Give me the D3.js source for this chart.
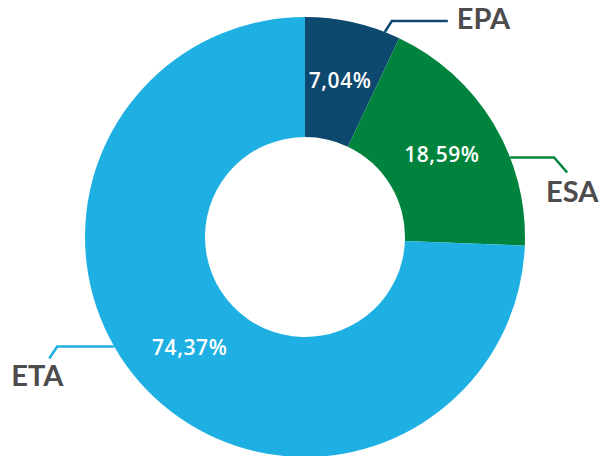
<!DOCTYPE html>
<html>
<head>
<meta charset="utf-8">
<script src="https://cdn.jsdelivr.net/npm/d3@7"></script>
<style>
  body { margin: 0; background: #fff; }
  svg { display: block; }
  .pct { font-family: "Open Sans", sans-serif; font-weight: 600; fill: #fff; }
  .name { font-family: Lato, sans-serif; font-weight: 700; fill: #4d4b4c; }
</style>
</head>
<body>
<svg id="chart"></svg>
<script>
// data
const categories = [ "EPA", "ESA", "ETA" ];
const shares = [ 7.04, 18.59, 74.37 ];
const colours = [ "#0d486e", "#00843d", "#1fb0e3" ];

var svgWidth = 603,
    svgHeight = 456,
    center = [ 305, 237 ],
    outerRadius = 220,
    innerRadius = 100,
    labelRadius = 160;

// leader lines: angle offset from the slice middle (deg), then elbow and end, relative to the arc point
const leaders = [
    { offset: 8.6,  pts: [ [ 7, -11 ], [ 63, -11 ] ], text: [ 72, -3 ],  anchor: "start" },
    { offset: 10,   pts: [ [ 44, 0 ], [ 57, 15 ] ],   text: [ 36, 45 ],  anchor: "start" },
    { offset: 14,   pts: [ [ -57, 0 ], [ -65, 12 ] ], text: [ -103, 39 ], anchor: "start" }
];

const svg = d3.select( "#chart" )
    .attr( "width", svgWidth )
    .attr( "height", svgHeight );

const g = svg.append( "g" )
    .attr( "transform", "translate(" + center + ")" );

const pie = d3.pie().sort( null ).value( d => d );
const arcs = pie( shares );

const arc = d3.arc().innerRadius( innerRadius ).outerRadius( outerRadius );
const labelArc = d3.arc().innerRadius( labelRadius ).outerRadius( labelRadius );

g.selectAll( "path.slice" )
    .data( arcs )
    .enter()
    .append( "path" )
    .classed( "slice", true )
    .attr( "d", arc )
    .style( "fill", ( d, i ) => colours[ i ] );

g.selectAll( "text.pct" )
    .data( arcs )
    .enter()
    .append( "text" )
    .classed( "pct", true )
    .attr( "transform", d => "translate(" + labelArc.centroid( d ) + ")" )
    .attr( "text-anchor", "middle" )
    .attr( "dy", "0.36em" )
    .style( "font-size", "21px" )
    .style( "letter-spacing", "0.6px" )
    .text( d => d.value.toFixed( 2 ).replace( ".", "," ) + "%" );

// leaders and names
arcs.forEach( ( d, i ) => {
    const L = leaders[ i ];
    const a = ( d.startAngle + d.endAngle ) / 2 + L.offset * Math.PI / 180;
    const p0 = [ Math.sin( a ) * outerRadius, -Math.cos( a ) * outerRadius ];
    const pts = [ p0 ].concat( L.pts.map( p => [ p0[ 0 ] + p[ 0 ], p0[ 1 ] + p[ 1 ] ] ) );

    g.append( "path" )
        .attr( "d", d3.line()( pts ) )
        .style( "fill", "none" )
        .style( "stroke", colours[ i ] )
        .style( "stroke-width", 2.5 );

    g.append( "text" )
        .classed( "name", true )
        .attr( "x", p0[ 0 ] + L.text[ 0 ] )
        .attr( "y", p0[ 1 ] + L.text[ 1 ] )
        .attr( "text-anchor", L.anchor )
        .style( "font-size", "29px" )
        .text( categories[ i ] );
} );
</script>
</body>
</html>
